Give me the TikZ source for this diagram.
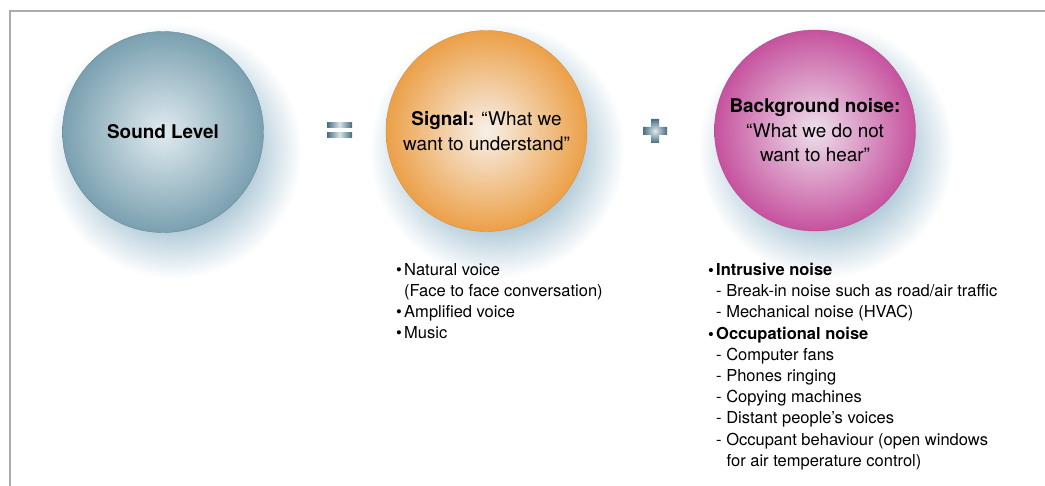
\documentclass[tikz,border=0pt]{standalone}
\usepackage{fontspec}
\setmainfont{TeX Gyre Heros}
\usetikzlibrary{positioning}

\definecolor{soundblue}{RGB}{122,160,176}
\definecolor{soundlight}{RGB}{224,235,239}
\definecolor{signalorange}{RGB}{236,160,72}
\definecolor{signallight}{RGB}{247,240,232}
\definecolor{noisepink}{RGB}{198,82,158}
\definecolor{noiselight}{RGB}{238,224,236}
\definecolor{haloblue}{RGB}{176,202,216}
\definecolor{signblue}{RGB}{70,110,130}
\definecolor{framegray}{RGB}{172,172,172}

\pgfdeclareradialshading{halo}{\pgfpoint{0bp}{0bp}}{color(0bp)=(haloblue); color(15bp)=(haloblue); color(25bp)=(white); color(50bp)=(white)}

\newcommand{\blt}{\makebox[8pt][l]{•}}

\begin{document}
\begin{tikzpicture}[x=1pt, y=-1pt,
	sphere/.style={circle, minimum size=201pt, inner sep=0pt, align=center, font=\fontsize{18.9}{24.5}\selectfont},
	eqbar/.style={rectangle, minimum width=25pt, minimum height=5pt, inner sep=0pt, left color=signblue, right color=signblue, middle color=signblue!20},
	itemlist/.style={anchor=north west, inner sep=0pt, align=left, font=\fontsize{16.5}{21.2}\selectfont}]
				\useasboundingbox (0,0) rectangle (1045,486);
				\draw[framegray, line width=1.5pt] (10,486) -- (10,11) -- (1045,11);
				
				\shade[shading=halo] (174,151) circle (128);
				\shade[shading=halo] (497,150) circle (128);
				\shade[shading=halo] (826,150) circle (128);
				
				\node[sphere, draw=soundblue!85!black, inner color=soundlight, outer color=soundblue] (sound) at (163,132) {\textbf{Sound Level}};
				\node[sphere, draw=signalorange!90!black, inner color=signallight, outer color=signalorange] (signal) at (486.5,131) {\textbf{Signal:} “What we\\want to understand”};
				\node[sphere, draw=noisepink!90!black, inner color=noiselight, outer color=noisepink] (noise) at (815,130.5) {\textbf{Background noise:}\\“What we do not\\want to hear”};
				
				\node[eqbar] (eqtop) at (339.5,125) {};
				\node[eqbar] (eqbottom) at (339.5,135.5) {};
				\shade[inner color=signblue!15, outer color=signblue] (651,119) -- (659,119) -- (659,127) -- (667,127) -- (667,135) -- (659,135) -- (659,143) -- (651,143) -- (651,135) -- (643,135) -- (643,127) -- (651,127) -- cycle;
				
				\node[itemlist] (signallist) at (396,263) {\blt Natural voice\\
					\hspace*{8pt}(Face to face conversation)\\
					\blt Amplified voice\\
					\blt Music};
				\node[itemlist] (noiselist) at (708,263) {\textbf{\blt Intrusive noise}\\
					\hspace*{8pt}- Break-in noise such as road/air traffic\\
					\hspace*{8pt}- Mechanical noise (HVAC)\\
					\textbf{\blt Occupational noise}\\
					\hspace*{8pt}- Computer fans\\
					\hspace*{8pt}- Phones ringing\\
					\hspace*{8pt}- Copying machines\\
					\hspace*{8pt}- Distant people’s voices\\
					\hspace*{8pt}- Occupant behaviour (open windows\\
					\hspace*{18.5pt}for air temperature control)};
\end{tikzpicture}
\end{document}
